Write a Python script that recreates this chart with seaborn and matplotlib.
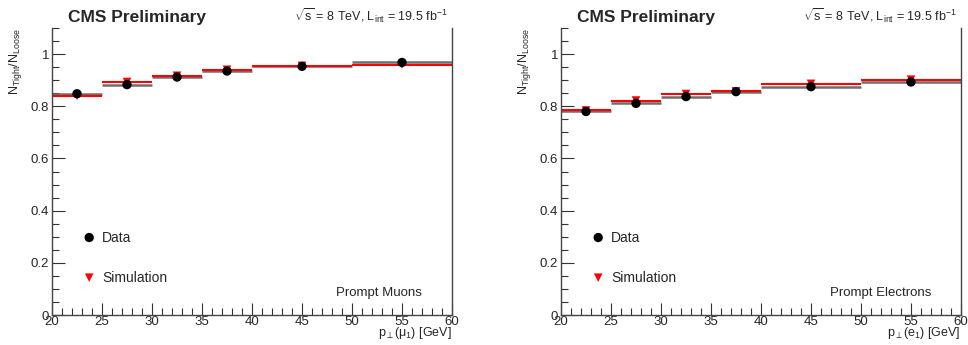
import numpy as np
import pandas as pd
import matplotlib
matplotlib.use("Agg")
import matplotlib.pyplot as plt
import seaborn as sns
from matplotlib.ticker import MultipleLocator

# bin edges in pT [GeV]
bin_lo = [20, 25, 30, 35, 40, 50]
bin_hi = [25, 30, 35, 40, 50, 60]

# tight-to-loose ratios
muon_data = [0.848, 0.883, 0.912, 0.935, 0.953, 0.968]
muon_sim = [0.840, 0.893, 0.917, 0.940, 0.955, 0.960]
ele_data = [0.780, 0.811, 0.837, 0.856, 0.875, 0.893]
ele_sim = [0.784, 0.822, 0.847, 0.857, 0.886, 0.902]

sns.set_style("ticks")
plt.rcParams['font.family'] = ['Liberation Sans', 'DejaVu Sans']
plt.rcParams['mathtext.fontset'] = 'custom'
plt.rcParams['mathtext.rm'] = 'Liberation Sans'
plt.rcParams['mathtext.it'] = 'Liberation Sans'
plt.rcParams['mathtext.sf'] = 'Liberation Sans'

fig = plt.figure(figsize=(9.68, 3.45), dpi=100)
W, H = 968, 345


def panel(left_px, data, sim, label, xlab):
    ax = fig.add_axes([left_px / W, 30 / H, 400 / W, 287 / H])
    df = pd.DataFrame({
        "lo": bin_lo, "hi": bin_hi,
        "x": [(a + b) / 2 for a, b in zip(bin_lo, bin_hi)],
        "data": data, "sim": sim,
    })
    ax.hlines(df["data"], df["lo"], df["hi"], color="#6e6e6e", lw=1.8, zorder=2)
    ax.hlines(df["sim"], df["lo"], df["hi"], color="#ff0000", lw=1.5, zorder=2)
    sns.scatterplot(data=df, x="x", y="sim", marker="v", color="#ff0000",
                    s=38, edgecolor="none", ax=ax, zorder=3)
    sns.scatterplot(data=df, x="x", y="data", marker="o", color="black",
                    s=45, edgecolor="none", ax=ax, zorder=4)
    ax.set_xlim(20, 60)
    ax.set_ylim(0, 1.1)
    ax.xaxis.set_major_locator(MultipleLocator(5))
    ax.xaxis.set_minor_locator(MultipleLocator(1))
    ax.yaxis.set_major_locator(MultipleLocator(0.2))
    ax.yaxis.set_minor_locator(MultipleLocator(0.05))
    ax.set_yticks([0, 0.2, 0.4, 0.6, 0.8, 1.0])
    ax.set_yticklabels(["0", "0.2", "0.4", "0.6", "0.8", "1"])
    ax.tick_params(which="major", direction="in", length=9, width=0.8,
                   labelsize=9.5, pad=2, color="#333333")
    ax.tick_params(which="minor", direction="in", length=5, width=0.8,
                   color="#333333")
    ax.tick_params(axis="x", pad=1)
    for s in ["left", "bottom", "right"]:
        ax.spines[s].set_linewidth(1.0)
        ax.spines[s].set_color("#444444")
    ax.spines["top"].set_visible(False)
    ax.set_xlabel("")
    ax.set_ylabel("")
    ax.text(-0.092, 1.0, r"N$_{\mathrm{Tight}}$/N$_{\mathrm{Loose}}$",
            transform=ax.transAxes, rotation=90, ha="center", va="top",
            fontsize=9)
    ax.text(1.0, -0.072, xlab, transform=ax.transAxes, ha="right",
            va="baseline", fontsize=9)
    # legend drawn ROOT style
    ax.scatter([0.093], [0.27], transform=ax.transAxes, marker="o", s=45,
               color="black", edgecolor="none", clip_on=False)
    ax.scatter([0.093], [0.13], transform=ax.transAxes, marker="v", s=38,
               color="#ff0000", edgecolor="none", clip_on=False)
    ax.text(0.125, 0.27, "Data", transform=ax.transAxes, va="center",
            fontsize=10)
    ax.text(0.125, 0.13, "Simulation", transform=ax.transAxes, va="center",
            fontsize=10)
    ax.text(0.925, 0.078, label, transform=ax.transAxes, ha="right",
            va="center", fontsize=9.5)
    ax.text(0.04, 1.01, "CMS Preliminary", transform=ax.transAxes,
            fontsize=12.5, fontweight="bold", va="bottom")
    ax.text(0.99, 1.01, r"$\sqrt{\mathrm{s}}$ = 8 TeV, L$_{\mathrm{int}}$ = 19.5 fb$^{\mathrm{-1}}$",
            transform=ax.transAxes, ha="right", va="bottom", fontsize=9)
    return ax


panel(52, muon_data, muon_sim, "Prompt Muons", r"p$_{\perp}$($\mu_{1}$) [GeV]")
panel(561, ele_data, ele_sim, "Prompt Electrons", r"p$_{\perp}$(e$_{1}$) [GeV]")

fig.savefig("out.png", dpi=100)
